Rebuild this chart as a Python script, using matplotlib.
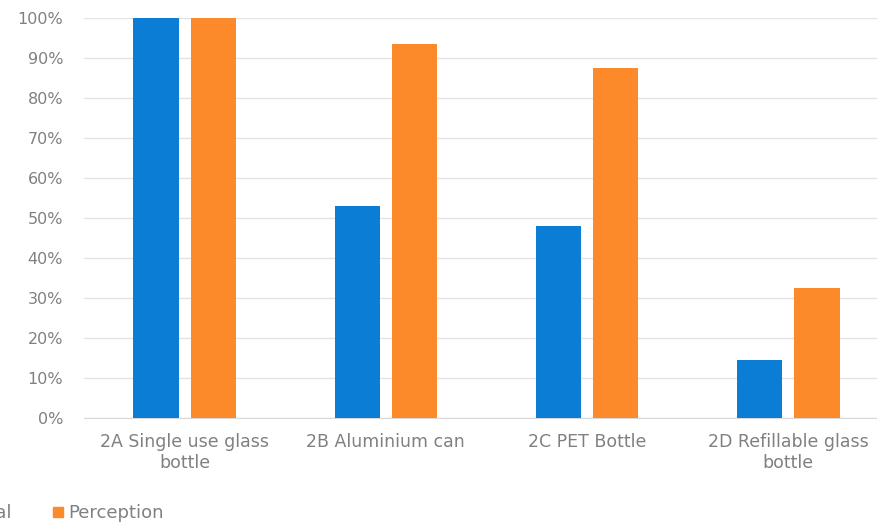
import matplotlib
matplotlib.use("Agg")
import matplotlib.pyplot as plt
import numpy as np
from matplotlib.lines import Line2D

categories = ["2A Single use glass\nbottle", "2B Aluminium can", "2C PET Bottle", "2D Refillable glass\nbottle"]
actual = [1.00, 0.53, 0.48, 0.145]
perception = [1.00, 0.935, 0.875, 0.325]
yticks = [0, 0.1, 0.2, 0.3, 0.4, 0.5, 0.6, 0.7, 0.8, 0.9, 1.0]
ytick_labels = ["0%", "10%", "20%", "30%", "40%", "50%", "60%", "70%", "80%", "90%", "100%"]

blue = "#0B7DD4"
orange = "#FD8A2A"
gray = "#808080"

plt.rcParams['font.family'] = ['DejaVu Sans']

W, H = 877, 525
fig = plt.figure(figsize=(W/100, H/100), dpi=100)
left = 84/W
right = 889/W
bottom = 1 - 418/H
top = 1 - 18/H
ax = fig.add_axes([left, bottom, right-left, top-bottom])

x = np.arange(len(categories))
bw = 0.225
gap = 0.06
ax.bar(x - (bw+gap)/2, actual, bw, color=blue, zorder=3)
ax.bar(x + (bw+gap)/2, perception, bw, color=orange, zorder=3)

ax.set_xlim(-0.5, len(categories)-0.5)
ax.set_ylim(0, 1.0)
ax.set_yticks(yticks)
ax.set_yticklabels(ytick_labels, fontsize=11.5)
ax.set_xticks(x)
ax.set_xticklabels(categories, linespacing=1.2, fontsize=12.5)
ax.tick_params(axis='both', length=0, colors=gray)
ax.tick_params(axis='y', pad=15)
ax.tick_params(axis='x', pad=11)
ax.grid(axis='y', color='#E3E3E3', linewidth=1, zorder=0)
for s in ['top', 'right', 'left']:
    ax.spines[s].set_visible(False)
ax.spines['bottom'].set_color('#D9D9D9')

handles = [Line2D([], [], marker='s', linestyle='none', color=blue, markersize=6.5),
           Line2D([], [], marker='s', linestyle='none', color=orange, markersize=6.5)]
leg = fig.legend(handles, ["Actual", "Perception"], loc='center left',
                 bbox_to_anchor=(-60/W, 1 - 513/H), ncol=2, frameon=False,
                 fontsize=13, handlelength=0.6, handletextpad=0.3, columnspacing=2.2,
                 labelcolor=gray, borderpad=0, borderaxespad=0)

fig.savefig("out.png", dpi=100)
